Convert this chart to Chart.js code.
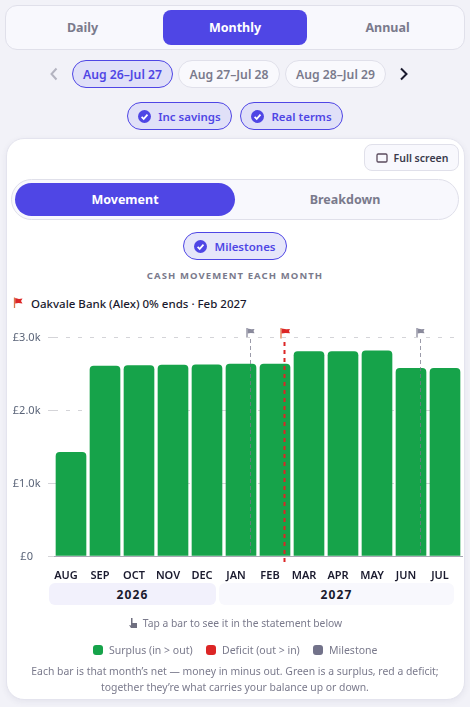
<!DOCTYPE html>
<html><head><meta charset="utf-8">
<script src="https://cdn.jsdelivr.net/npm/chart.js@4"></script>
<style>
*{box-sizing:border-box}
html,body{margin:0;padding:0;width:470px;height:707px;overflow:hidden;background:#f2f2f8;font-family:"Noto Sans",sans-serif}
.a{position:absolute;white-space:nowrap}
.c{display:flex;align-items:center;justify-content:center}
.pill{border-radius:999px;border:1px solid #e0e0ea;background:#f9f9fd;color:#7a7a8c;font-size:12.2px;font-weight:600}
.on{border-color:#4f46e5;background:#e0e0f8;color:#4f46e5}
.sm{font-size:11.5px}
.chk{width:13px;height:13px;margin-right:7px;flex:none}
</style></head><body>
<div class="a" style="left:5px;top:5px;width:460px;height:45px;border-radius:12px;border:1px solid #e0e0ea;background:#f8f8fd"></div>
<div class="a c" style="left:5px;top:10px;width:155px;height:35px;font-size:12.5px;font-weight:700;color:#7a7a8c">Daily</div>
<div class="a c" style="left:163px;top:10px;width:144px;height:35px;border-radius:8px;background:#4f46e5;color:#fff;font-size:12.5px;font-weight:700">Monthly</div>
<div class="a c" style="left:310px;top:10px;width:155px;height:35px;font-size:12.5px;font-weight:700;color:#7a7a8c">Annual</div>

<svg class="a" style="left:49px;top:67px" width="10" height="14" viewBox="0 0 10 14"><path d="M7.5 1.5 2.5 7l5 5.5" fill="none" stroke="#b4b4c0" stroke-width="2"/></svg>
<div class="a c pill on" style="left:72px;top:60px;width:101px;height:28px">Aug 26–Jul 27</div>
<div class="a c pill" style="left:178px;top:60px;width:102px;height:28px">Aug 27–Jul 28</div>
<div class="a c pill" style="left:285px;top:60px;width:101px;height:28px">Aug 28–Jul 29</div>
<svg class="a" style="left:399px;top:67px" width="10" height="14" viewBox="0 0 10 14"><path d="M2 1.5 7.5 7 2 12.5" fill="none" stroke="#1a1a2e" stroke-width="2"/></svg>

<div class="a c pill on sm" style="left:127px;top:102px;width:105px;height:28px"><svg class="chk" viewBox="0 0 13 13"><circle cx="6.5" cy="6.5" r="6.5" fill="#4f46e5"/><path d="M3.6 6.8 5.7 8.9 9.5 4.6" fill="none" stroke="#fff" stroke-width="1.7"/></svg>Inc savings</div>
<div class="a c pill on sm" style="left:240px;top:102px;width:103px;height:28px"><svg class="chk" viewBox="0 0 13 13"><circle cx="6.5" cy="6.5" r="6.5" fill="#4f46e5"/><path d="M3.6 6.8 5.7 8.9 9.5 4.6" fill="none" stroke="#fff" stroke-width="1.7"/></svg>Real terms</div>

<div class="a" style="left:6px;top:138px;width:459px;height:562px;border-radius:18px;background:#fff;border:1px solid #e4e4ee;box-shadow:0 2px 6px rgba(60,60,100,.07)"></div>

<div class="a c" style="left:364px;top:144px;width:95px;height:27px;border-radius:8px;border:1px solid #e0e0ea;background:#f8f8fd;color:#3a3a4c;font-size:10.5px;font-weight:600;padding-left:1px"><svg width="12" height="10" viewBox="0 0 12 10" style="margin-right:6px"><rect x="1" y="1" width="10" height="8" rx="1.2" fill="none" stroke="#5a4a5c" stroke-width="1.3"/></svg>Full screen</div>

<div class="a" style="left:11px;top:179px;width:448px;height:41px;border-radius:21px;border:1px solid #e0e0ea;background:#f8f8fd"></div>
<div class="a c" style="left:15px;top:183px;width:220px;height:33px;border-radius:17px;background:#4f46e5;color:#fff;font-size:12.5px;font-weight:700">Movement</div>
<div class="a c" style="left:235px;top:183px;width:220px;height:33px;color:#7a7a8c;font-size:12.5px;font-weight:700">Breakdown</div>

<div class="a c pill on sm" style="left:183px;top:232px;width:104px;height:28px;background:#e6e6fa"><svg class="chk" viewBox="0 0 13 13"><circle cx="6.5" cy="6.5" r="6.5" fill="#4f46e5"/><path d="M3.6 6.8 5.7 8.9 9.5 4.6" fill="none" stroke="#fff" stroke-width="1.7"/></svg>Milestones</div>

<div class="a c" style="left:6px;top:267px;width:458px;height:16px;font-size:9.5px;font-weight:700;letter-spacing:1.1px;color:#7a7a8c">CASH MOVEMENT EACH MONTH</div>

<svg class="a" style="left:13px;top:297px" width="11" height="12" viewBox="0 0 11 12"><path d="M1.5 0.5V11" stroke="#d9774a" stroke-width="1.3"/><path d="M2.2 1 6 2 9.5 1.5 8 4 9.5 6.5 5.5 6 2.2 6.5Z" fill="#dc2626"/></svg>
<div class="a" style="left:31px;top:295px;font-size:11.5px;font-weight:500;color:#1a1a2e;line-height:17px">Oakvale Bank (Alex) 0% ends · Feb 2027</div>

<canvas id="c" class="a" style="left:0;top:320px" width="470" height="268"></canvas>

<div class="a c" style="left:49px;top:583px;width:167px;height:22px;border-radius:6px;background:#f2f1fc;color:#1a1a2e;font-size:12px;font-weight:700;letter-spacing:1.1px">2026</div>
<div class="a c" style="left:219px;top:583px;width:235px;height:22px;border-radius:6px;background:#f8f8fd;color:#1a1a2e;font-size:12px;font-weight:700;letter-spacing:1.1px">2027</div>

<div class="a c" style="left:6px;top:614px;width:458px;height:18px;font-size:10.3px;color:#7a7a8c"><svg width="10" height="12" viewBox="0 0 10 12" style="margin-right:5px"><path d="M3 1h1.5v5H9v5H3L1 8l2 .5Z" fill="#6f6f80"/></svg>Tap a bar to see it in the statement below</div>

<div class="a" style="left:93px;top:645px;width:10px;height:10px;border-radius:3px;background:#16a34a"></div>
<div class="a" style="left:109px;top:641px;font-size:10.5px;line-height:18px;color:#7a7a8c">Surplus (in &gt; out)</div>
<div class="a" style="left:206px;top:645px;width:10px;height:10px;border-radius:3px;background:#dc2626"></div>
<div class="a" style="left:222px;top:641px;font-size:10.5px;line-height:18px;color:#7a7a8c">Deficit (out &gt; in)</div>
<div class="a" style="left:313px;top:645px;width:10px;height:10px;border-radius:3px;background:#72728a"></div>
<div class="a" style="left:329px;top:641px;font-size:10.5px;line-height:18px;color:#7a7a8c">Milestone</div>

<div class="a" style="left:6px;top:663px;width:458px;text-align:center;font-size:10.4px;line-height:16px;color:#7a7a8c">Each bar is that month’s net — money in minus out. Green is a surplus, red a deficit;<br>together they’re what carries your balance up or down.</div>

<script>
const months = ['AUG','SEP','OCT','NOV','DEC','JAN','FEB','MAR','APR','MAY','JUN','JUL'];
const netMovement = [1420,2600,2610,2615,2620,2630,2630,2800,2800,2810,2570,2570];
const yTicks = [0,1000,2000,3000];
const yTickLabels = ['£0','£1.0k','£2.0k','£3.0k'];
const milestoneMonths = ['JAN','FEB','JUN'];
const milestoneColors = ['#8a8a9c','#dc2626','#8a8a9c'];

const milestonePlugin = {
  id:'milestones',
  afterDatasetsDraw(chart){
    const {ctx,scales:{x,y}} = chart;
    const top = y.getPixelForValue(3000), base = y.getPixelForValue(0);
    milestoneMonths.forEach((m,i)=>{
      const px = Math.round(x.getPixelForValue(months.indexOf(m))) + 9.5;
      const red = milestoneColors[i]==='#dc2626';
      ctx.save();
      ctx.strokeStyle = red ? '#dc2626' : 'rgba(122,122,140,.75)';
      ctx.lineWidth = red ? 2 : 1;
      ctx.setLineDash(red ? [4,4] : [4,3]);
      ctx.beginPath();
      ctx.moveTo(px, top + (red?5:2));
      ctx.lineTo(px, base + (red?6:0));
      ctx.stroke();
      ctx.setLineDash([]);
      const fx = px - 3.5, fy = top - 9;
      ctx.lineWidth = 1.3;
      ctx.strokeStyle = red ? '#e07a4a' : '#8a8a9c';
      ctx.beginPath(); ctx.moveTo(fx, fy); ctx.lineTo(fx, fy + (red?10.5:9)); ctx.stroke();
      ctx.fillStyle = milestoneColors[i];
      ctx.beginPath();
      const w = red ? 9 : 7.5;
      ctx.moveTo(fx+.6, fy+.5); ctx.lineTo(fx+w*.6, fy+1.3); ctx.lineTo(fx+w, fy+1);
      ctx.lineTo(fx+w-1, fy+3); ctx.lineTo(fx+w, fy+5.3); ctx.lineTo(fx+w*.5, fy+5); ctx.lineTo(fx+.6, fy+5.5);
      ctx.closePath(); ctx.fill();
      ctx.restore();
    });
  }
};

new Chart(document.getElementById('c'),{
  type:'bar',
  data:{labels:months,datasets:[{
    data:netMovement,
    backgroundColor:'#16a34a',
    borderRadius:{topLeft:4,topRight:4,bottomLeft:0,bottomRight:0},
    borderSkipped:false,
    barThickness:30
  }]},
  plugins:[milestonePlugin],
  options:{
    responsive:false,animation:false,devicePixelRatio:1,
    layout:{padding:{top:17,right:8,left:0,bottom:0}},
    plugins:{legend:{display:false},tooltip:{enabled:false}},
    scales:{
      x:{
        grid:{display:false,drawTicks:false},
        border:{color:'#a8a8b4',width:1},
        ticks:{color:'#1a1a2e',font:{family:'"Noto Sans"',size:11,weight:'600'},labelOffset:-5,padding:13,maxRotation:0,autoSkip:false},
        afterFit(s){s.height=32}
      },
      y:{
        min:0,max:3000,
        afterBuildTicks(s){s.ticks=yTicks.map(v=>({value:v}))},
        grid:{color:'#d4d4d8',tickLength:6,drawTicks:true},
        border:{display:false,dash:[4,8]},
        ticks:{color:'#5a6478',font:{family:'"Noto Sans"',size:11},crossAlign:'center',padding:7.5,labelOffset:1,
          callback:(v)=>yTickLabels[yTicks.indexOf(v)]},
        afterFit(s){s.width=54}
      }
    }
  }
});
</script>
</body></html>
